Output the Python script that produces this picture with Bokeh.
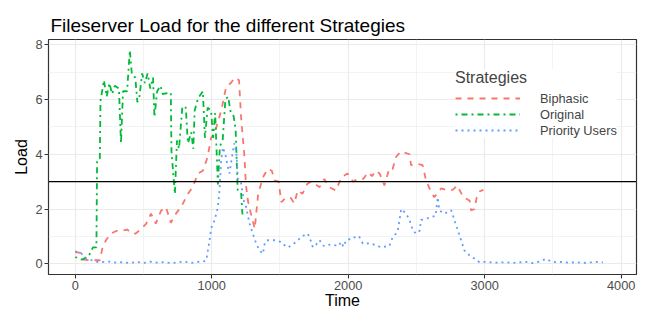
from bokeh.plotting import figure
from bokeh.models import Range1d, Span, Legend, LegendItem, FixedTicker
from bokeh.embed import file_html
from bokeh.resources import INLINE

# ---- data ----
series_names = ["Biphasic", "Original", "Priority Users"]

biphasic_time = [0, 40, 60, 120, 180, 200, 225, 260, 300, 340, 380, 420, 440, 480, 520, 555,
                 590, 630, 665, 700, 740, 775, 825, 860, 900, 935, 970, 995, 1020, 1070, 1105,
                 1140, 1170, 1200, 1215, 1240, 1250, 1265, 1290, 1315, 1340, 1375, 1410, 1440,
                 1460, 1490, 1510, 1545, 1580, 1605, 1630, 1665, 1700, 1730, 1760, 1790, 1825,
                 1860, 1910, 1950, 1995, 2035, 2070, 2110, 2145, 2175, 2200, 2230, 2265, 2300,
                 2325, 2350, 2385, 2450, 2460, 2510, 2545, 2570, 2600, 2630, 2680, 2720, 2765,
                 2800, 2840, 2890, 2900, 2925, 2940, 2965, 2990]
biphasic_load = [0.43, 0.40, 0.15, 0.13, 0.13, 0.60, 0.86, 1.10, 1.20, 1.20, 1.25, 1.10, 1.10,
                 1.25, 1.47, 1.83, 1.47, 1.95, 2.07, 1.50, 1.85, 2.07, 2.55, 2.80, 3.30, 3.40,
                 3.90, 4.60, 4.75, 5.60, 6.45, 6.60, 6.80, 6.70, 5.35, 3.90, 2.90, 2.30, 1.77,
                 1.28, 2.55, 3.15, 3.47, 3.40, 3.05, 3.00, 2.25, 2.43, 2.40, 2.20, 2.68, 2.56,
                 2.92, 3.00, 2.90, 2.80, 3.10, 2.80, 2.68, 3.16, 3.30, 3.00, 3.10, 3.10, 3.34,
                 3.20, 3.40, 3.30, 2.86, 3.47, 3.45, 3.90, 4.10, 4.00, 3.60, 3.65, 3.60, 3.05,
                 2.70, 2.43, 2.75, 2.70, 2.70, 2.86, 2.45, 2.30, 1.95, 2.00, 2.40, 2.65, 2.70]

original_time = [0, 50, 100, 130, 155, 160, 180, 185, 210, 230, 250, 270, 290, 320, 335, 350,
                 380, 400, 415, 440, 455, 470, 490, 510, 530, 550, 570, 580, 600, 625, 640, 700,
                 705, 730, 745, 760, 785, 810, 825, 850, 865, 875, 900, 935, 950, 970, 995, 1010,
                 1025, 1045, 1060, 1080, 1100, 1120, 1140, 1160, 1175, 1190, 1215, 1225]
original_load = [0.25, 0.15, 0.30, 0.60, 0.60, 3.80, 3.85, 5.95, 6.70, 6.10, 6.60, 6.20, 6.50,
                 6.40, 4.40, 6.30, 6.30, 7.80, 6.90, 6.80, 5.90, 6.10, 6.95, 6.60, 6.95, 6.40,
                 6.80, 5.35, 6.30, 6.50, 6.20, 6.25, 4.10, 2.55, 4.50, 4.20, 5.75, 5.70, 4.40,
                 4.80, 4.20, 5.60, 6.05, 6.30, 4.60, 5.70, 5.60, 4.60, 5.50, 2.90, 4.30, 4.50,
                 6.00, 6.10, 5.50, 5.40, 4.90, 2.70, 2.60, 1.80]

priority_time = [0, 40, 80, 120, 170, 250, 300, 350, 400, 450, 500, 550, 600, 650, 700, 750,
                 800, 850, 900, 950, 960, 972, 984, 996, 1020, 1045, 1057, 1069, 1082, 1100,
                 1115, 1130, 1145, 1165, 1180, 1192, 1215, 1235, 1252, 1277, 1301, 1326, 1350,
                 1375, 1390, 1411, 1460, 1509, 1540, 1560, 1590, 1620, 1655, 1680, 1704, 1725,
                 1741, 1765, 1790, 1820, 1850, 1900, 1930, 1948, 1965, 1985, 2010, 2034, 2060,
                 2080, 2107, 2131, 2160, 2190, 2205, 2240, 2270, 2302, 2326, 2350, 2363, 2375,
                 2388, 2424, 2449, 2473, 2498, 2522, 2534, 2573, 2610, 2640, 2656, 2668, 2705,
                 2754, 2778, 2803, 2827, 2851, 2870, 2888, 2925, 2961, 3010, 3050, 3100, 3150,
                 3200, 3250, 3300, 3350, 3400, 3450, 3480, 3520, 3570, 3620, 3670, 3720, 3770,
                 3820, 3866]
priority_load = [0.45, 0.40, 0.20, 0.13, 0.06, 0.08, 0.04, 0.06, 0.03, 0.07, 0.03, 0.08, 0.04,
                 0.06, 0.03, 0.05, 0.08, 0.03, 0.07, 0.10, 0.13, 0.49, 0.86, 1.30, 1.58, 2.07,
                 2.68, 3.77, 4.25, 4.00, 3.60, 3.30, 3.80, 4.40, 4.10, 3.05, 2.95, 2.30, 2.07,
                 1.47, 1.10, 0.74, 0.49, 0.37, 0.80, 0.86, 0.86, 0.80, 0.65, 0.60, 0.70, 0.80,
                 0.98, 1.05, 1.10, 0.85, 0.60, 0.70, 0.86, 0.65, 0.70, 0.68, 0.65, 0.80, 0.62,
                 0.86, 0.90, 0.98, 0.95, 1.00, 0.74, 0.74, 0.75, 0.70, 0.68, 0.60, 0.63, 0.65,
                 0.98, 1.10, 1.22, 1.58, 2.00, 1.83, 1.60, 1.22, 1.10, 1.20, 1.60, 1.65, 1.71,
                 1.75, 2.43, 1.95, 1.83, 1.95, 1.60, 1.22, 0.86, 0.49, 0.40, 0.31, 0.19, 0.06,
                 0.07, 0.05, 0.04, 0.06, 0.03, 0.05, 0.07, 0.03, 0.08, 0.18, 0.10, 0.06, 0.07,
                 0.04, 0.06, 0.03, 0.05, 0.07, 0.05]

threshold = 3
x_ticks = [0, 1000, 2000, 3000, 4000]
x_minor = [500, 1500, 2500, 3500]
y_ticks = [0, 2, 4, 6, 8]
y_minor = [1, 3, 5, 7]

FONT = "Liberation Sans"
colors = ["#F8766D", "#00BA38", "#619CFF"]
dashes = ["6 6", "2 4 6 4", "2 4"]

p = figure(width=649, height=312, x_range=Range1d(-196, 4112), y_range=Range1d(-0.39, 8.19),
           output_backend="svg", toolbar_location=None,
           min_border_left=48, min_border_right=13, min_border_top=39, min_border_bottom=38)

p.title.text = "Fileserver Load for the different Strategies"
p.title.text_font = FONT
p.title.text_font_size = "19px"
p.title.text_font_style = "normal"
p.title.text_color = "black"
p.title.align = "left"
p.title.offset = 2
p.title.standoff = 8

p.background_fill_color = "white"
p.border_fill_color = "white"
p.outline_line_color = "#333333"
p.outline_line_width = 1.2

p.xaxis.ticker = FixedTicker(ticks=x_ticks, minor_ticks=x_minor)
p.yaxis.ticker = FixedTicker(ticks=y_ticks, minor_ticks=y_minor)
for ax in (p.xaxis, p.yaxis):
    ax.axis_line_color = None
    ax.major_tick_line_color = "#333333"
    ax.major_tick_line_width = 1.1
    ax.major_tick_out = 4
    ax.major_tick_in = 0
    ax.minor_tick_line_color = None
    ax.major_label_text_font = FONT
    ax.major_label_text_font_size = "12.8px"
    ax.major_label_text_color = "#4D4D4D"
    ax.major_label_standoff = 2
    ax.axis_label_text_font = FONT
    ax.axis_label_text_font_size = "16px"
    ax.axis_label_text_font_style = "normal"
    ax.axis_label_text_color = "black"
p.xaxis.axis_label = "Time"
p.xaxis.axis_label_standoff = -1
p.yaxis.axis_label = "Load"
p.yaxis.axis_label_standoff = 2

for g in (p.xgrid, p.ygrid):
    g.grid_line_color = "#EBEBEB"
    g.grid_line_width = 1.2
    g.minor_grid_line_color = "#EBEBEB"
    g.minor_grid_line_width = 0.6

renderers = []
for name, t, v, c, d in [
    (series_names[0], biphasic_time, biphasic_load, colors[0], dashes[0]),
    (series_names[1], original_time, original_load, colors[1], dashes[1]),
    (series_names[2], priority_time, priority_load, colors[2], dashes[2]),
]:
    r = p.line(t, v, line_color=c, line_width=1.8, line_dash=d)
    renderers.append((name, r))

p.add_layout(Span(location=threshold, dimension="width", line_color="black", line_width=1.4))

legend = Legend(items=[LegendItem(label=n, renderers=[r]) for n, r in renderers],
                location=(407, 136), title="Strategies")
legend.title_text_font = FONT
legend.title_text_font_size = "16px"
legend.title_text_font_style = "normal"
legend.title_standoff = 3
legend.label_text_font = FONT
legend.label_text_font_size = "12.8px"
legend.glyph_width = 65
legend.glyph_height = 16
legend.label_height = 16
legend.label_standoff = 20
legend.spacing = 0
legend.padding = 8
legend.margin = 0
legend.border_line_color = None
legend.background_fill_color = "white"
legend.background_fill_alpha = 1.0
p.add_layout(legend)

open("out.html", "w").write(file_html(p, INLINE))
